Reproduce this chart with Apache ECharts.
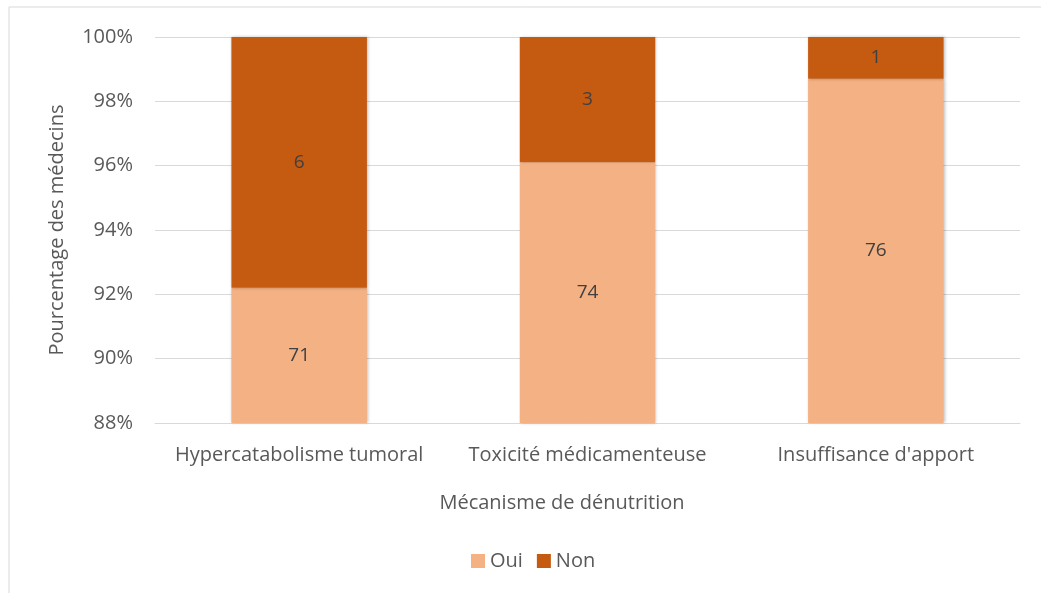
<!DOCTYPE html>
<html>
<head>
<meta charset="utf-8">
<script src="https://cdn.jsdelivr.net/npm/echarts@6/dist/echarts.min.js"></script>
<style>
  html, body { margin: 0; padding: 0; background: #fff; }
  #chart { width: 1041px; height: 593px; }
</style>
</head>
<body>
<div id="chart"></div>
<script>
// categories and counts (labels show counts, bars show share of doctors)
const categories = ['Hypercatabolisme tumoral', 'Toxicité médicamenteuse', "Insuffisance d'apport"]
const ouiCounts = [71, 74, 76]
const nonCounts = [6, 3, 1]

const toPct = (v, i) => v / (ouiCounts[i] + nonCounts[i]) * 100
const textColor = '#595959'
const font = '"Open Sans", sans-serif'
const fs = 20

const chart = echarts.init(document.getElementById('chart'))

const makeSeries = (name, counts, color) => ({
  name: name,
  type: 'bar',
  stack: 'total',
  barWidth: '47%',
  data: counts.map((c, i) => ({ value: toPct(c, i), count: c })),
  itemStyle: { color: color, shadowColor: 'rgba(0,0,0,0.25)', shadowBlur: 3, shadowOffsetX: 1 },
  label: {
    show: true,
    position: 'inside',
    color: '#404040',
    fontSize: 19,
    fontFamily: font,
    formatter: p => p.data.count
  }
})

chart.setOption({
  animation: false,
  textStyle: { fontFamily: font },
  grid: { left: 155, right: 21, top: 37, bottom: 170 },
  graphic: [
    {
      type: 'rect',
      shape: { x: 9, y: 7, width: 1100, height: 700 },
      style: { fill: 'none', stroke: '#d9d9d9', lineWidth: 1 },
      silent: true
    },
    {
      type: 'text',
      x: 562,
      y: 503,
      style: {
        text: 'Mécanisme de dénutrition',
        fill: textColor,
        font: fs + 'px ' + font,
        align: 'center',
        verticalAlign: 'middle'
      }
    }
  ],
  legend: {
    top: 546,
    left: 466,
    itemWidth: 14,
    itemHeight: 14,
    itemGap: 14,
    icon: 'rect',
    textStyle: { color: textColor, fontSize: fs, fontFamily: font },
    data: ['Oui', 'Non']
  },
  xAxis: {
    type: 'category',
    data: categories,
    axisTick: { show: false },
    axisLine: { lineStyle: { color: '#d9d9d9', width: 1 } },
    axisLabel: { color: textColor, fontSize: fs, fontFamily: font, margin: 22, interval: 0, hideOverlap: false }
  },
  yAxis: {
    type: 'value',
    min: 88,
    max: 100,
    interval: 2,
    name: 'Pourcentage des médecins',
    nameLocation: 'middle',
    nameGap: 88,
    nameTextStyle: { color: textColor, fontSize: fs, fontFamily: font },
    axisLine: { show: false },
    axisTick: { show: false },
    splitLine: { lineStyle: { color: '#d9d9d9', width: 1 } },
    axisLabel: { color: textColor, fontSize: fs, fontFamily: font, margin: 22, formatter: v => v + '%' }
  },
  series: [
    makeSeries('Oui', ouiCounts, '#F4B183'),
    makeSeries('Non', nonCounts, '#C55A11')
  ]
})
</script>
</body>
</html>
